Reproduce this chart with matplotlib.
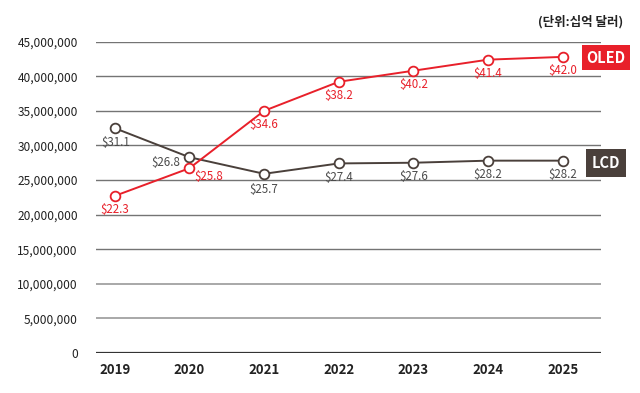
import matplotlib
matplotlib.use("Agg")
import matplotlib.pyplot as plt

plt.rcParams['font.family'] = ['Noto Sans CJK KR', 'DejaVu Sans']

# data
years = [2019, 2020, 2021, 2022, 2023, 2024, 2025]
oled = [22.7e6, 26.7e6, 35.0e6, 39.2e6, 40.8e6, 42.4e6, 42.8e6]
lcd = [32.5e6, 28.3e6, 25.9e6, 27.4e6, 27.5e6, 27.8e6, 27.8e6]
oled_labels = ['$22.3', '$25.8', '$34.6', '$38.2', '$40.2', '$41.4', '$42.0']
lcd_labels = ['$31.1', '$26.8', '$25.7', '$27.4', '$27.6', '$28.2', '$28.2']
y_ticks = [0, 5e6, 10e6, 15e6, 20e6, 25e6, 30e6, 35e6, 40e6, 45e6]

red = '#e8202a'
brown = '#4a403b'

fig = plt.figure(figsize=(6.4, 3.93), dpi=100)
ax = fig.add_axes([0.15, 0.1018, 0.789, 0.7922])

# grid lines
for t in y_ticks:
    if t == 0:
        ax.axhline(t, color='#333333', lw=1.6, zorder=1)
    elif t <= 10e6:
        ax.axhline(t, color='#9a9a9a', lw=1.2, zorder=1)
    else:
        ax.axhline(t, color='#747474', lw=1.0, zorder=1)

ax.plot(years, lcd, color=brown, lw=1.4, marker='o', ms=7, mfc='white',
        mec=brown, mew=1.3, zorder=3, clip_on=False)
ax.plot(years, oled, color=red, lw=1.4, marker='o', ms=7, mfc='white',
        mec=red, mew=1.3, zorder=4, clip_on=False)

# value labels (offsets in points)
lcd_off = [(1, -10), (-17, -4), (0, -11), (0, -10), (0, -10), (0, -10), (0, -10)]
oled_off = [(0, -10), (14, -6), (0, -10), (0, -10), (0, -10), (0, -10), (0, -10)]
for x, y, s, o in zip(years, lcd, lcd_labels, lcd_off):
    ax.annotate(s, (x, y), xytext=o, textcoords='offset points', ha='center',
                va='center', fontsize=8.3, color='#4a4a4a')
for x, y, s, o in zip(years, oled, oled_labels, oled_off):
    ax.annotate(s, (x, y), xytext=o, textcoords='offset points', ha='center',
                va='center', fontsize=8.3, color=red)

ax.set_xlim(2018.75, 2025.51)
ax.set_ylim(0, 45e6)
ax.set_yticks(y_ticks)
ax.set_yticklabels(['0' if t == 0 else f'{int(t):,}' for t in y_ticks],
                   fontsize=8.6, color='#222222')
ax.set_xticks(years)
ax.set_xticklabels([str(y) for y in years], fontsize=9.5, fontweight='bold',
                   color='#222222')
ax.tick_params(length=0, axis='y', pad=13)
ax.tick_params(length=0, axis='x', pad=7)
for sp in ax.spines.values():
    sp.set_visible(False)

# series tags on the right
fig.text(0.947, 0.853, 'OLED', color='white', fontsize=10.5, fontweight='bold',
         ha='center', va='center',
         bbox=dict(boxstyle='square,pad=0.32', fc=red, ec='none'))
fig.text(0.947, 0.585, 'LCD', color='white', fontsize=10.5, fontweight='bold',
         ha='center', va='center',
         bbox=dict(boxstyle='square,pad=0.4', fc=brown, ec='none'))

fig.text(0.974, 0.945, '(단위:십억 달러)', fontsize=9, fontweight='bold',
         ha='right', va='center', color='#222222')

fig.savefig('out.png', dpi=100)
